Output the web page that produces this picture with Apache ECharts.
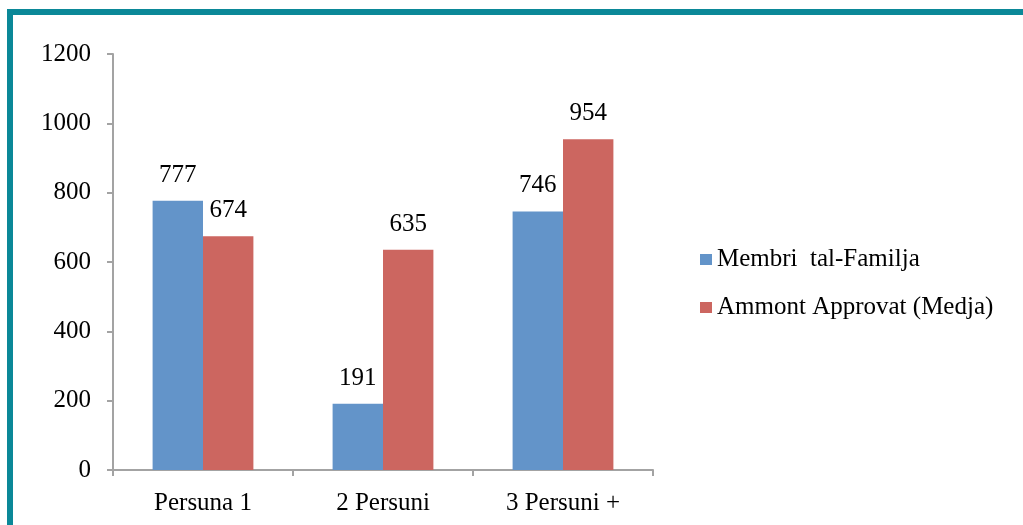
<!DOCTYPE html>
<html>
<head>
<meta charset="utf-8">
<script src="https://cdn.jsdelivr.net/npm/echarts@6/dist/echarts.min.js"></script>
<style>
  html, body { margin: 0; padding: 0; background: #fff; }
  #wrap { position: relative; width: 1023px; height: 525px; overflow: hidden; }
  #chart { position: absolute; left: 0; top: 0; width: 1023px; height: 525px; }
  .frame { position: absolute; left: 7px; top: 9px; right: -10px; bottom: -10px;
           border-top: 6px solid #0b8898; border-left: 6px solid #0b8898; pointer-events: none; }
</style>
</head>
<body>
<div id="wrap">
  <div id="chart"></div>
  <div class="frame"></div>
</div>
<script>
// dati mill-grafika
const categories = ['Persuna 1', '2 Persuni', '3 Persuni +'];
const membri = [777, 191, 746];
const ammont = [674, 635, 954];
const yTicks = { min: 0, max: 1200, interval: 200 };

const font = 'Liberation Serif';
const axisGrey = '#a3a3a3';
const fs = 25;

const myChart = echarts.init(document.getElementById('chart'));

const option = {
  animation: false,
  textStyle: { fontFamily: font },
  grid: { left: 113, right: 370, top: 54, bottom: 55, containLabel: false },
  legend: {
    orient: 'vertical',
    left: 695,
    top: 242,
    itemGap: 23,
    itemWidth: 12,
    itemHeight: 11,
    icon: 'rect',
    textStyle: { fontFamily: font, fontSize: 25, color: '#000' },
    data: ['Membri  tal-Familja', 'Ammont Approvat (Medja)']
  },
  xAxis: {
    type: 'category',
    data: categories,
    axisLine: { lineStyle: { color: axisGrey, width: 2 } },
    axisTick: { show: true, length: 6, lineStyle: { color: axisGrey, width: 2 } },
    axisLabel: { margin: 21, color: '#000', fontSize: fs, fontFamily: font }
  },
  yAxis: {
    type: 'value',
    min: yTicks.min,
    max: yTicks.max,
    interval: yTicks.interval,
    splitLine: { show: false },
    axisLine: { show: true, lineStyle: { color: axisGrey, width: 2 } },
    axisTick: { show: true, length: 6, lineStyle: { color: axisGrey, width: 2 } },
    axisLabel: { margin: 22, color: '#000', fontSize: fs, fontFamily: font, formatter: v => String(v) }
  },
  series: [
    {
      name: 'Membri  tal-Familja',
      type: 'bar',
      data: membri,
      barGap: '0%',
      barCategoryGap: '44%',
      itemStyle: { color: '#6394c9' },
      label: { show: true, position: 'top', distance: 13, color: '#000', fontSize: fs, fontFamily: font }
    },
    {
      name: 'Ammont Approvat (Medja)',
      type: 'bar',
      data: ammont,
      barGap: '0%',
      barCategoryGap: '44%',
      itemStyle: { color: '#cc6660' },
      label: { show: true, position: 'top', distance: 13, color: '#000', fontSize: fs, fontFamily: font }
    }
  ]
};
myChart.setOption(option);
</script>
</body>
</html>
